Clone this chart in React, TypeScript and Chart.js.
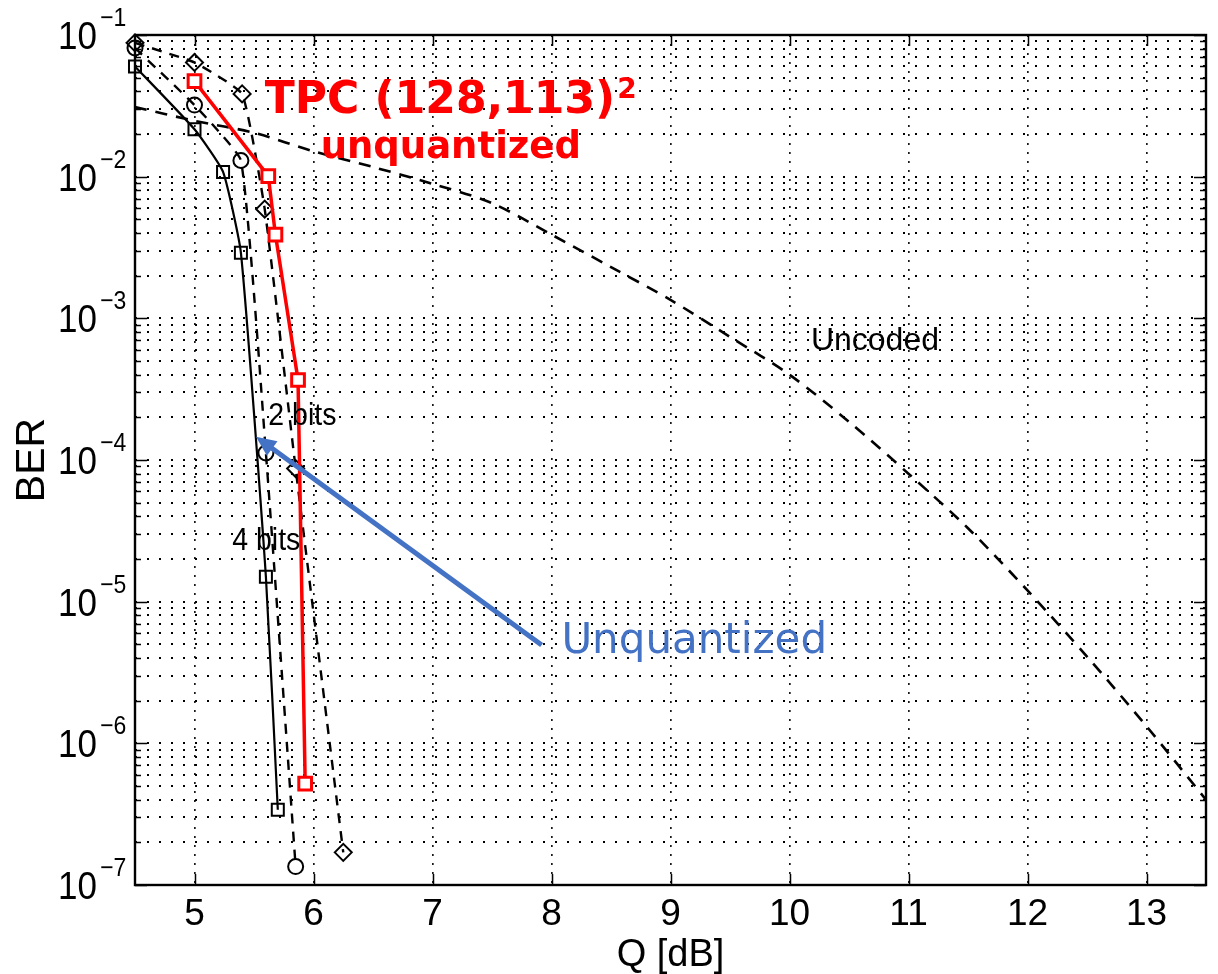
import React, { useEffect, useRef } from 'react';
import { Chart, registerables } from 'chart.js';

Chart.register(...registerables);

// ---------- data ----------
const xTickValues = [5, 6, 7, 8, 9, 10, 11, 12, 13];
const decadeExponents = [-7, -6, -5, -4, -3, -2, -1];
const minorMultipliers = [1, 2, 3, 4, 5, 6, 7, 8, 9];

// TPC (128,113)^2 unquantized (red, squares)
const tpcQ = [5.0, 5.62, 5.68, 5.87, 5.93];
const tpcBER = [4.73e-2, 1.01e-2, 3.9e-3, 3.67e-4, 5.2e-7];

// solid black, squares
const squaresQ = [4.5, 5.0, 5.24, 5.39, 5.6, 5.7];
const squaresBER = [6.0e-2, 2.16e-2, 1.08e-2, 2.9e-3, 1.5e-5, 3.4e-7];

// dashed black, circles
const circlesQ = [4.5, 5.0, 5.39, 5.6, 5.85];
const circlesBER = [8.1e-2, 3.2e-2, 1.3e-2, 1.12e-4, 1.35e-7];

// dashed black, diamonds
const diamondsQ = [4.5, 5.0, 5.4, 5.59, 5.85, 6.25];
const diamondsBER = [8.8e-2, 6.4e-2, 3.84e-2, 5.9e-3, 8.7e-5, 1.7e-7];

// uncoded dashed
const uncodedQ = [4.5, 5, 5.5, 6, 6.5, 7, 7.5, 8, 8.5, 9, 9.5, 10, 10.5, 11, 11.5, 12, 12.5, 13, 13.5];
const uncodedBER = [3.1e-2, 2.48e-2, 2.04e-2, 1.51e-2, 1.17e-2, 8.9e-3, 6.5e-3, 3.9e-3, 2.3e-3, 1.35e-3, 7.4e-4, 4.0e-4, 1.86e-4, 8.0e-5, 3.3e-5, 1.2e-5, 4.1e-6, 1.32e-6, 4.0e-7];

// annotation anchors (data coordinates)
const tpcLabelAt = { q: 5.59, ber: 2.82e-2 };
const tpcSubLabelAt = { q: 6.06, ber: 1.355e-2 };
const uncodedLabelAt = { q: 10.18, ber: 5.98e-4 };
const twoBitsLabelAt = { q: 5.62, ber: 1.77e-4 };
const fourBitsLabelAt = { q: 5.317, ber: 2.32e-5 };
const unquantLabelAt = { q: 8.083, ber: 4.36e-6 };
const arrowTail = { q: 7.917, ber: 4.95e-6 };
const arrowTip = { q: 5.517, ber: 1.46e-4 };

const yTickValues: number[] = [];
decadeExponents.forEach((e) => {
  if (e === -1) {
    yTickValues.push(Math.pow(10, e));
  } else {
    minorMultipliers.forEach((m) => yTickValues.push(m * Math.pow(10, e)));
  }
});

const toXY = (qs: number[], bs: number[]) => qs.map((q, i) => ({ x: q, y: bs[i] }));

const SANS = '"Liberation Sans", Arial, Helvetica, sans-serif';
const VERD = '"DejaVu Sans", Verdana, sans-serif';
const STRETCH = 1.12;

function drawText(
  ctx: CanvasRenderingContext2D,
  s: string,
  x: number,
  y: number,
  font: string,
  color: string,
  align: CanvasTextAlign = 'left',
  sy = 1
) {
  ctx.save();
  ctx.translate(x, y);
  ctx.scale(1, sy);
  ctx.font = font;
  ctx.fillStyle = color;
  ctx.textAlign = align;
  ctx.textBaseline = 'alphabetic';
  ctx.fillText(s, 0, 0);
  ctx.restore();
}

const decorPlugin = {
  id: 'matlabDecor',
  beforeDatasetsDraw(chart: any) {
    const { ctx, chartArea: a, scales } = chart;
    const xs = scales.x;
    const ys = scales.y;
    ctx.save();
    ctx.setLineDash([]);
    ctx.strokeStyle = '#000';
    ctx.lineWidth = 1.5;
    ctx.beginPath();
    xTickValues.forEach((v) => {
      const px = Math.round(xs.getPixelForValue(v)) + 0.5;
      ctx.moveTo(px, a.bottom);
      ctx.lineTo(px, a.bottom - 11);
      ctx.moveTo(px, a.top);
      ctx.lineTo(px, a.top + 11);
    });
    yTickValues.forEach((v) => {
      const py = Math.round(ys.getPixelForValue(v)) + 0.5;
      const isDecade = Math.abs(Math.log10(v) - Math.round(Math.log10(v))) < 1e-9;
      const len = isDecade ? 12 : 6;
      ctx.moveTo(a.left, py);
      ctx.lineTo(a.left + len, py);
      ctx.moveTo(a.right, py);
      ctx.lineTo(a.right - len, py);
    });
    ctx.stroke();
    ctx.lineWidth = 2.4;
    ctx.strokeRect(a.left, a.top, a.right - a.left, a.bottom - a.top);
    ctx.restore();
  },
  afterDatasetsDraw(chart: any) {
    const { ctx, scales } = chart;
    const xs = scales.x;
    const ys = scales.y;
    const P = (p: { q: number; ber: number }) => ({ x: xs.getPixelForValue(p.q), y: ys.getPixelForValue(p.ber) });

    // y tick labels 10^k
    decadeExponents.forEach((e) => {
      const py = ys.getPixelForValue(Math.pow(10, e));
      drawText(ctx, '10', 97, py + 14, `35px ${SANS}`, '#000', 'right', STRETCH);
      drawText(ctx, '\u2212' + String(Math.abs(e)), 100, py - 9, `23px ${SANS}`, '#000', 'left', STRETCH);
    });

    // MATLAB text labels
    const u = P(uncodedLabelAt);
    drawText(ctx, 'Uncoded', u.x, u.y, `32px ${SANS}`, '#000');
    const b2 = P(twoBitsLabelAt);
    drawText(ctx, '2 bits', b2.x, b2.y, `28.5px ${SANS}`, '#000', 'left', STRETCH);
    const b4 = P(fourBitsLabelAt);
    drawText(ctx, '4 bits', b4.x, b4.y, `28.5px ${SANS}`, '#000', 'left', STRETCH);

    // red annotation
    const t = P(tpcLabelAt);
    const mainFont = `bold 44px ${VERD}`;
    drawText(ctx, 'TPC (128,113)', t.x, t.y, mainFont, '#ff0000');
    ctx.save();
    ctx.font = mainFont;
    const w = ctx.measureText('TPC (128,113)').width;
    ctx.restore();
    drawText(ctx, '2', t.x + w + 2, t.y - 15, `bold 28px ${VERD}`, '#ff0000');
    const ts = P(tpcSubLabelAt);
    drawText(ctx, 'unquantized', ts.x, ts.y, `bold 37px ${VERD}`, '#ff0000');

    // blue arrow + label
    const a0 = P(arrowTail);
    const a1 = P(arrowTip);
    const ang = Math.atan2(a1.y - a0.y, a1.x - a0.x);
    const headLen = 20;
    const headHalf = 9;
    const blue = '#4472c4';
    ctx.save();
    ctx.setLineDash([]);
    ctx.strokeStyle = blue;
    ctx.fillStyle = blue;
    ctx.lineWidth = 5;
    ctx.lineCap = 'butt';
    ctx.beginPath();
    ctx.moveTo(a0.x, a0.y);
    ctx.lineTo(a1.x - Math.cos(ang) * (headLen - 2), a1.y - Math.sin(ang) * (headLen - 2));
    ctx.stroke();
    const bx = a1.x - Math.cos(ang) * headLen;
    const by = a1.y - Math.sin(ang) * headLen;
    ctx.beginPath();
    ctx.moveTo(a1.x, a1.y);
    ctx.lineTo(bx + Math.sin(ang) * headHalf, by - Math.cos(ang) * headHalf);
    ctx.lineTo(bx - Math.sin(ang) * headHalf, by + Math.cos(ang) * headHalf);
    ctx.closePath();
    ctx.fill();
    ctx.restore();
    const ul = P(unquantLabelAt);
    drawText(ctx, 'Unquantized', ul.x, ul.y, `42px ${VERD}`, blue);
  },
};

export default function App() {
  const ref = useRef<HTMLCanvasElement>(null);

  useEffect(() => {
    if (!ref.current) return;
    const black = '#000000';
    const chart = new Chart(ref.current, {
      type: 'line',
      data: {
        datasets: [
          {
            label: 'TPC unquantized',
            data: toXY(tpcQ, tpcBER),
            borderColor: '#ff0000',
            borderWidth: 3.5,
            pointStyle: 'rect',
            pointRadius: 9,
            pointBorderWidth: 3,
            pointBorderColor: '#ff0000',
            pointBackgroundColor: '#ffffff',
            tension: 0,
            clip: false,
          } as any,
          {
            label: 'squares',
            data: toXY(squaresQ, squaresBER),
            borderColor: black,
            borderWidth: 2.2,
            pointStyle: 'rect',
            pointRadius: 8.5,
            pointBorderWidth: 2,
            pointBorderColor: black,
            pointBackgroundColor: 'rgba(0,0,0,0)',
            tension: 0.15,
            clip: false,
          } as any,
          {
            label: 'circles',
            data: toXY(circlesQ, circlesBER),
            borderColor: black,
            borderWidth: 2.4,
            borderDash: [10, 8],
            pointStyle: 'circle',
            pointRadius: 7.5,
            pointBorderWidth: 2,
            pointBorderColor: black,
            pointBackgroundColor: 'rgba(0,0,0,0)',
            tension: 0.12,
            clip: false,
          } as any,
          {
            label: 'diamonds',
            data: toXY(diamondsQ, diamondsBER),
            borderColor: black,
            borderWidth: 2.4,
            borderDash: [10, 8],
            pointStyle: 'rectRot',
            pointRadius: 8.5,
            pointBorderWidth: 2,
            pointBorderColor: black,
            pointBackgroundColor: 'rgba(0,0,0,0)',
            tension: 0.12,
            clip: false,
          } as any,
          {
            label: 'Uncoded',
            data: toXY(uncodedQ, uncodedBER),
            borderColor: black,
            borderWidth: 2.6,
            borderDash: [12, 9],
            pointRadius: 0,
            tension: 0.3,
          } as any,
        ],
      },
      options: {
        responsive: false,
        animation: false,
        devicePixelRatio: 1,
        layout: { padding: { top: 35, right: 4, bottom: 0, left: 0 } },
        plugins: {
          legend: { display: false },
          tooltip: { enabled: false },
        },
        scales: {
          x: {
            type: 'linear',
            min: 4.5,
            max: 13.5,
            afterBuildTicks: (scale: any) => {
              scale.ticks = xTickValues.map((v) => ({ value: v }));
            },
            afterFit: (scale: any) => {
              scale.height = 89;
            },
            ticks: {
              autoSkip: false,
              maxRotation: 0,
              padding: 8,
              color: '#000',
              font: { family: SANS, size: 37 },
              callback: (v: any) => String(v),
            },
            grid: {
              drawTicks: false,
              color: 'rgba(0,0,0,0.9)',
              lineWidth: 1.7,
            },
            border: { display: false, dash: [2, 7] },
            title: {
              display: true,
              text: 'Q [dB]',
              color: '#000',
              font: { family: SANS, size: 38, lineHeight: 0.9 },
              padding: { top: 0, bottom: 1 },
            },
          },
          y: {
            type: 'logarithmic',
            min: 1e-7,
            max: 1e-1,
            afterBuildTicks: (scale: any) => {
              scale.ticks = yTickValues.map((v) => ({ value: v }));
            },
            afterFit: (scale: any) => {
              scale.width = 135;
            },
            ticks: {
              autoSkip: false,
              callback: () => '',
            },
            grid: {
              drawTicks: false,
              color: '#000',
              lineWidth: 2,
            },
            border: { display: false, dash: [2, 10] },
            title: {
              display: true,
              text: 'BER',
              color: '#000',
              font: { family: SANS, size: 41, lineHeight: 1 },
              padding: { top: 12, bottom: 0 },
            },
          },
        },
      } as any,
      plugins: [decorPlugin as any],
    });
    return () => chart.destroy();
  }, []);

  return (
    <div style={{ position: 'absolute', left: 0, top: 0, width: 1218, height: 974, background: '#fff' }}>
      <canvas ref={ref} width={1218} height={974} style={{ display: 'block' }} />
    </div>
  );
}
